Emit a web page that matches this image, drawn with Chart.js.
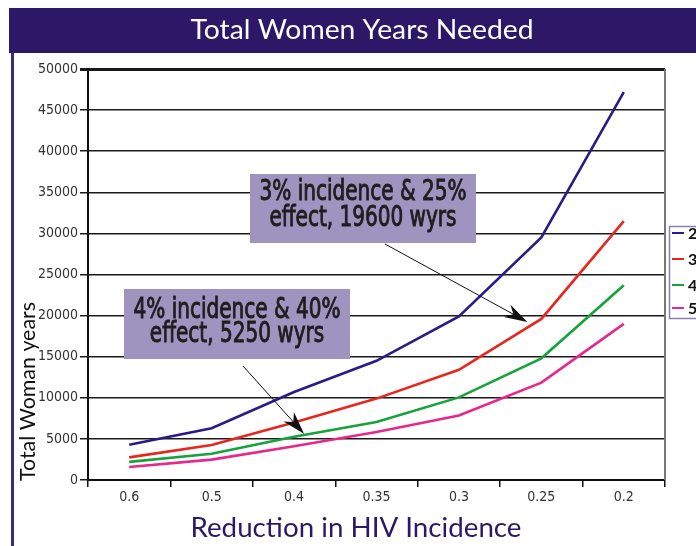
<!DOCTYPE html>
<html><head><meta charset="utf-8">
<script src="https://cdn.jsdelivr.net/npm/chart.js@4"></script>
<style>html,body{margin:0;padding:0;background:#fff;overflow:hidden}#wrap{width:696px;height:546px;position:relative}</style>
</head><body><div id="wrap"><canvas id="c" width="696" height="546"></canvas></div>
<script>
// ---- data ----
const categories = ['0.6', '0.5', '0.4', '0.35', '0.3', '0.25', '0.2'];
const seriesLabels = ['2%', '3%', '4%', '5%'];
const incidence2 = [4300, 6300, 10700, 14500, 19900, 29500, 47200];
const incidence3 = [2750, 4250, 7000, 9900, 13400, 19600, 31500];
const incidence4 = [2200, 3200, 5250, 7050, 10050, 14800, 23700];
const incidence5 = [1580, 2480, 4100, 5850, 7850, 11850, 19000];
const yTickMin = 0, yTickMax = 50000, yTickStep = 5000;
const chartTitle = 'Total Women Years Needed';
const xTitle = 'Reduction in HIV Incidence';
const yTitle = 'Total Woman years';
const noteA = ['3% incidence & 25%', 'effect, 19600 wyrs'];
const noteB = ['4% incidence & 40%', 'effect, 5250 wyrs'];

// ---- styles ----
const colors = ['#2e1a86', '#e8261e', '#17a33b', '#e8278b'];
const condFont = "'Liberation Sans Narrow','DejaVu Sans Condensed','Arial Narrow',sans-serif";
const geoFont = "Lato,'Open Sans',sans-serif";
const purple = '#2c1866';

function drawScaled(ctx, text, x, y, font, s, align, color, stroke) {
  ctx.save();
  ctx.font = font;
  ctx.translate(x, y);
  ctx.scale(s, 1);
  ctx.textAlign = align || 'center';
  ctx.textBaseline = 'middle';
  ctx.fillStyle = color;
  ctx.fillText(text, 0, 0);
  if (stroke) { ctx.strokeStyle = color; ctx.lineWidth = stroke; ctx.strokeText(text, 0, 0); }
  ctx.restore();
}
function fitText(ctx, text, x, y, font, width, align, color, stroke) {
  ctx.save(); ctx.font = font;
  const w = ctx.measureText(text).width;
  ctx.restore();
  const s = width ? width / w : 1;
  drawScaled(ctx, text, x, y, font, s, align, color, stroke);
  return s;
}
function arrow(ctx, x0, y0, x1, y1) {
  const a = Math.atan2(y1 - y0, x1 - x0);
  ctx.save();
  ctx.strokeStyle = '#111'; ctx.fillStyle = '#111'; ctx.lineWidth = 1;
  ctx.beginPath(); ctx.moveTo(x0, y0);
  ctx.lineTo(x1 - 15 * Math.cos(a), y1 - 15 * Math.sin(a)); ctx.stroke();
  ctx.translate(x1, y1); ctx.rotate(a);
  ctx.beginPath(); ctx.moveTo(0, 0); ctx.lineTo(-23, -7); ctx.lineTo(-16, 0); ctx.lineTo(-23, 7);
  ctx.closePath(); ctx.fill();
  ctx.restore();
}

const notes = [
  { lines: noteA, box: [250, 174, 226, 69], ly: [193, 219], w: 207, cx: 363, from: [385, 244], ds: 1, idx: 5, off: [-14, 3] },
  { lines: noteB, box: [124, 289, 226, 70], ly: [311, 335], w: 207, cx: 237, from: [243, 366], ds: 2, idx: 2, off: [10, -3] }
];

const decor = {
  id: 'decor',
  beforeDraw(chart) {
    const c = chart.ctx;
    c.save();
    c.fillStyle = '#fff'; c.fillRect(0, 0, chart.width, chart.height);
    c.fillStyle = purple; c.fillRect(9, 8, 700, 45);
    c.fillStyle = '#3a2a80'; c.fillRect(11, 53, 3, 500);
    c.restore();
    fitText(c, chartTitle, 362, 30, '27px ' + geoFont, 343, 'center', '#fff');
    fitText(c, xTitle, 356, 528, '27px ' + geoFont, 331, 'center', purple);
    c.save();
    c.translate(28, 481); c.rotate(-Math.PI / 2);
    fitText(c, yTitle, 0, 0, '21px ' + geoFont, 179, 'left', '#111');
    c.restore();
  },
  afterDatasetsDraw(chart) {
    const c = chart.ctx, a = chart.chartArea;
    c.save();
    c.strokeStyle = '#777'; c.lineWidth = 2;
    c.beginPath(); c.moveTo(a.right, a.top); c.lineTo(a.right, a.bottom); c.stroke();
    c.restore();
    const xs = chart.scales.x, ys = chart.scales.y;
    notes.forEach(n => {
      const [bx, by, bw, bh] = n.box;
      c.save(); c.fillStyle = '#9f93bf'; c.fillRect(bx, by, bw, bh); c.restore();
      const f = '28px ' + condFont;
      const s = fitText(c, n.lines[0], n.cx, n.ly[0], f, n.w, 'center', '#1e1e1e', 0.9);
      drawScaled(c, n.lines[1], n.cx, n.ly[1], f, s, 'center', '#1e1e1e', 0.9);
      const v = chart.data.datasets[n.ds].data[n.idx];
      const px = xs.getPixelForValue(n.idx) + n.off[0], py = ys.getPixelForValue(v) + n.off[1];
      arrow(c, n.from[0], n.from[1], px, py);
    });
    // legend (cut off by the page edge, as in the original)
    c.save();
    c.fillStyle = '#fff'; c.fillRect(669, 226, 40, 92);
    c.strokeStyle = '#8a7fb6'; c.lineWidth = 1.5; c.strokeRect(669.5, 226.5, 40, 92);
    const ly = [233, 259, 285, 308];
    chart.data.datasets.forEach((d, i) => {
      c.strokeStyle = d.borderColor; c.lineWidth = 2;
      c.beginPath(); c.moveTo(672, ly[i]); c.lineTo(684, ly[i]); c.stroke();
      c.fillStyle = '#111'; c.font = 'bold 16px ' + geoFont; c.textAlign = 'left'; c.textBaseline = 'middle';
      c.fillText(d.label, 688, ly[i] + 1);
    });
    c.restore();
  }
};

const datasets = [incidence2, incidence3, incidence4, incidence5].map((d, i) => ({
  label: seriesLabels[i], data: d, borderColor: colors[i], backgroundColor: colors[i],
  borderWidth: 2.6, pointRadius: 0, tension: 0, fill: false
}));

new Chart(document.getElementById('c'), {
  type: 'line',
  data: { labels: categories, datasets },
  options: {
    responsive: false, animation: false, devicePixelRatio: 1,
    layout: { padding: { top: 69, right: 31, bottom: 0, left: 0 } },
    plugins: { legend: { display: false }, title: { display: false }, tooltip: { enabled: false } },
    scales: {
      x: {
        type: 'category', offset: true,
        grid: { offset: true, drawOnChartArea: false, drawTicks: true, tickLength: 7, color: '#111', lineWidth: 1.5 },
        border: { display: true, color: '#111', width: 2 },
        ticks: { font: { family: condFont, size: 14 }, color: '#333', padding: 2, maxRotation: 0, autoSkip: false },
        afterFit(s) { s.height = 66; }
      },
      y: {
        min: yTickMin, max: yTickMax,
        ticks: { stepSize: yTickStep, font: { family: condFont, size: 14 }, color: '#333', padding: 2, callback: v => String(v) },
        grid: { color: '#1a1a1a', lineWidth: c => (c.tick && c.tick.value === yTickMax ? 3 : 1.5), tickLength: 8, drawTicks: true },
        border: { display: true, color: '#111', width: 2 },
        afterFit(s) { s.width = 88; }
      }
    }
  },
  plugins: [decor]
});
</script>
</body></html>
